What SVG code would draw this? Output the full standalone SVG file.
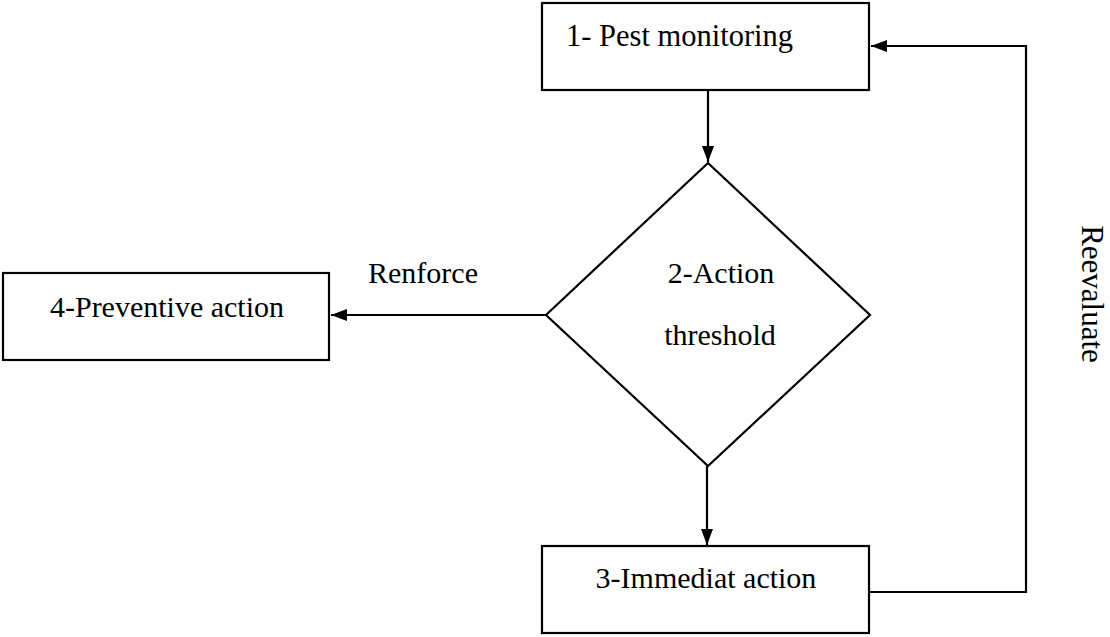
<svg xmlns="http://www.w3.org/2000/svg" width="1110" height="637" viewBox="0 0 1110 637">
  <style>
    .box { fill: #ffffff; stroke: #000000; stroke-width: 2.2; }
    .link { fill: none; stroke: #000000; stroke-width: 2.2; }
    .lbl { font-family: "Liberation Serif", "Times New Roman", serif; font-size: 30px; fill: #000000; }
  </style>
  <defs>
    <marker id="head" viewBox="0 0 16 12" refX="16" refY="6" markerWidth="16" markerHeight="12" markerUnits="userSpaceOnUse" orient="auto">
      <path d="M0,0 L16,6 L0,12 Z" fill="#000000"/>
    </marker>
  </defs>

  <rect width="1110" height="637" fill="#ffffff"/>

  <g id="connectors">
    <line class="link" x1="708" y1="90" x2="708" y2="162" marker-end="url(#head)"/>
    <line class="link" x1="546" y1="315" x2="331" y2="315" marker-end="url(#head)"/>
    <line class="link" x1="707" y1="466" x2="707" y2="545" marker-end="url(#head)"/>
    <polyline class="link" points="869,592 1026,592 1026,46 871,46" marker-end="url(#head)"/>
    <text class="lbl" x="423" y="283" text-anchor="middle">Renforce</text>
    <text class="lbl" style="font-size:31px" transform="translate(1082,294) rotate(90)" text-anchor="middle">Reevaluate</text>
  </g>

  <g id="node1">
    <rect class="box" x="542" y="3" width="327" height="87"/>
    <text class="lbl" style="font-size:30.5px" x="566" y="46">1- Pest monitoring</text>
  </g>

  <g id="node2">
    <polygon class="box" points="708,163 870,315 708,466 546,315"/>
    <text class="lbl" x="721" y="283" text-anchor="middle">2-Action</text>
    <text class="lbl" x="720" y="345" text-anchor="middle">threshold</text>
  </g>

  <g id="node3">
    <rect class="box" x="542" y="546" width="327" height="87"/>
    <text class="lbl" x="706" y="588" text-anchor="middle">3-Immediat action</text>
  </g>

  <g id="node4">
    <rect class="box" x="3" y="273" width="326" height="87"/>
    <text class="lbl" x="167" y="317" text-anchor="middle">4-Preventive action</text>
  </g>
</svg>
